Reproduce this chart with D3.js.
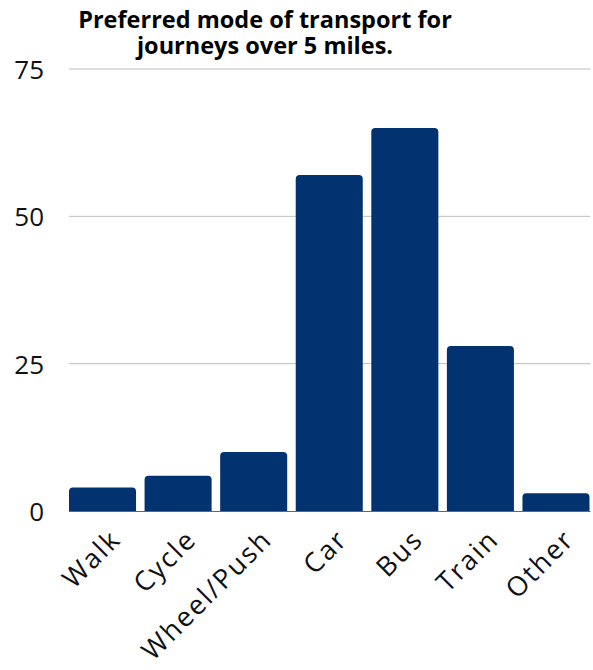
<!DOCTYPE html>
<html>
<head>
<meta charset="utf-8">
<script src="https://cdn.jsdelivr.net/npm/d3@7"></script>
<style>
  body { margin: 0; background: #fff; }
  svg { display: block; font-family: "Open Sans", Lato, sans-serif; }
</style>
</head>
<body>
<div id="chart"></div>
<script>
const categories = ["Walk", "Cycle", "Wheel/Push", "Car", "Bus", "Train", "Other"];
const values = [4, 6, 10, 57, 65, 28, 3];
const yTicks = [0, 25, 50, 75];
const titleLines = ["Preferred mode of transport for", "journeys over 5 miles."];

const width = 593, height = 670;
const plotLeft = 69, plotRight = 589.5, plotTop = 69, plotBottom = 511;

const svg = d3.select("#chart").append("svg")
    .attr("width", width)
    .attr("height", height);

const x = d3.scaleBand()
    .domain(categories)
    .range([plotLeft, plotRight])
    .paddingInner(0.113)
    .paddingOuter(0);

const y = d3.scaleLinear()
    .domain([0, 75])
    .range([plotBottom, plotTop]);

// gridlines
svg.append("g")
    .selectAll("line")
    .data(yTicks.filter(d => d !== 0))
    .join("line")
    .attr("x1", plotLeft)
    .attr("x2", plotRight + 1)
    .attr("y1", d => y(d))
    .attr("y2", d => y(d))
    .attr("stroke", "#bdbdbd")
    .attr("stroke-width", 1);

// y labels
svg.append("g")
    .selectAll("text")
    .data(yTicks)
    .join("text")
    .attr("x", 44)
    .attr("y", d => y(d) + 3)
    .attr("text-anchor", "end")
    .attr("dominant-baseline", "middle")
    .attr("fill", "#111")
    .style("font-size", "26px")
    .text(d => d);

// bars with rounded top corners
function barPath(x0, y0, w, h, r) {
    r = Math.min(r, h, w / 2);
    return `M${x0},${y0 + h}V${y0 + r}Q${x0},${y0} ${x0 + r},${y0}` +
        `H${x0 + w - r}Q${x0 + w},${y0} ${x0 + w},${y0 + r}V${y0 + h}Z`;
}

svg.append("g")
    .selectAll("path")
    .data(categories)
    .join("path")
    .attr("d", (d, i) => barPath(x(d), y(values[i]), x.bandwidth(), y(0) - y(values[i]), 4))
    .attr("fill", "#023270");

// baseline
svg.append("line")
    .attr("x1", plotLeft)
    .attr("x2", plotRight + 1)
    .attr("y1", y(0) + 0.5)
    .attr("y2", y(0) + 0.5)
    .attr("stroke", "#666")
    .attr("stroke-width", 1);

// x labels rotated
svg.append("g")
    .selectAll("text")
    .data(categories)
    .join("text")
    .attr("transform", d => `translate(${x(d) + x.bandwidth() / 2 + 20},${plotBottom + 30}) rotate(-45)`)
    .attr("text-anchor", "end")
    .attr("fill", "#111")
    .style("font-size", "27px")
    .style("letter-spacing", "2px")
    .text(d => d);

// title, one text per line
svg.append("g")
    .selectAll("text")
    .data(titleLines)
    .join("text")
    .attr("x", 265)
    .attr("y", (d, i) => 28 + i * 26)
    .attr("text-anchor", "middle")
    .attr("fill", "#000")
    .style("font-size", "23.5px")
    .style("font-weight", "bold")
    .text(d => d);
</script>
</body>
</html>
